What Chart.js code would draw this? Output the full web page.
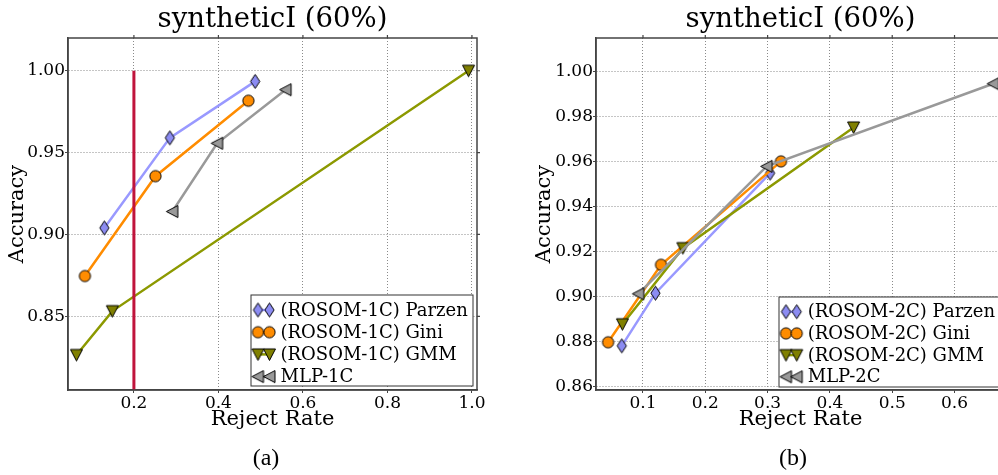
<!DOCTYPE html>
<html>
<head>
<meta charset="utf-8">
<script src="https://cdn.jsdelivr.net/npm/chart.js@4.4.0/dist/chart.umd.min.js"></script>
<style>
  html, body { margin: 0; padding: 0; width: 998px; height: 475px; overflow: hidden; background: #fff; }
  canvas { position: absolute; top: 0; }
  .caption { position: absolute; top: 444px; font-family: 'Liberation Serif', serif; font-size: 24px; color: #000; width: 60px; text-align: center; }
</style>
</head>
<body>
<canvas id="chartA" width="546" height="475" style="left:0px"></canvas>
<canvas id="chartB" width="602" height="475" style="left:500px"></canvas>
<div class="caption" style="left:236px">(a)</div>
<div class="caption" style="left:763px">(b)</div>
<script>
// ---- data: panel (a), one-class models ----
const parzen1cX = [0.130, 0.285, 0.487];
const parzen1cY = [0.904, 0.959, 0.9935];
const gini1cX = [0.084, 0.251, 0.471];
const gini1cY = [0.8746, 0.9356, 0.9817];
const gmm1cX = [0.064, 0.149, 0.992];
const gmm1cY = [0.8264, 0.8532, 1.0];
const mlp1cX = [0.291, 0.397, 0.559];
const mlp1cY = [0.914, 0.9557, 0.9884];
const rejectMarkX = [0.2, 0.2];
const rejectMarkY = [1.0, 0.79];

// ---- data: panel (b), two-class models ----
const parzen2cX = [0.066, 0.120, 0.304];
const parzen2cY = [0.8781, 0.9015, 0.9548];
const gini2cX = [0.044, 0.129, 0.3215];
const gini2cY = [0.8797, 0.9141, 0.960];
const gmm2cX = [0.067, 0.164, 0.438];
const gmm2cY = [0.8877, 0.9215, 0.9751];
const mlp2cX = [0.0925, 0.2985, 0.662];
const mlp2cY = [0.9012, 0.9578, 0.9945];

// ---- labels and ticks ----
const chartTitle = 'syntheticI (60%)';
const xLabel = 'Reject Rate';
const yLabel = 'Accuracy';
const labels1c = ['(ROSOM-1C) Parzen', '(ROSOM-1C) Gini', '(ROSOM-1C) GMM', 'MLP-1C'];
const labels2c = ['(ROSOM-2C) Parzen', '(ROSOM-2C) Gini', '(ROSOM-2C) GMM', 'MLP-2C'];
const xTicksA = [0.2, 0.4, 0.6, 0.8, 1.0];
const yTicksA = [0.85, 0.90, 0.95, 1.00];
const xTicksB = [0.1, 0.2, 0.3, 0.4, 0.5, 0.6, 0.7];
const yTicksB = [0.86, 0.88, 0.90, 0.92, 0.94, 0.96, 0.98, 1.00];

Chart.defaults.font.family = "'DejaVu Serif', serif";
Chart.defaults.color = '#000';

const zip = (xs, ys) => xs.map((x, i) => ({ x: x, y: ys[i] }));

// small canvases used as point images (matplotlib-like markers)
function makeMarker(shape, fill) {
    const c = document.createElement('canvas');
    c.width = 17; c.height = 17;
    const g = c.getContext('2d');
    const m = 8.5;
    g.beginPath();
    if (shape === 'diamond') {
        g.moveTo(m, m - 7); g.lineTo(m + 4.6, m); g.lineTo(m, m + 7); g.lineTo(m - 4.6, m);
    } else if (shape === 'circle') {
        g.arc(m, m, 5.6, 0, Math.PI * 2);
    } else if (shape === 'down') {
        g.moveTo(m - 6, m - 5.5); g.lineTo(m + 6, m - 5.5); g.lineTo(m, m + 6);
    } else if (shape === 'left') {
        g.moveTo(m - 6, m); g.lineTo(m + 5.5, m - 6); g.lineTo(m + 5.5, m + 6);
    }
    g.closePath();
    g.fillStyle = fill;
    g.fill();
    g.lineWidth = 1;
    g.strokeStyle = '#000';
    g.stroke();
    return c;
}

const styles = [
    { line: '#9999ff', marker: makeMarker('diamond', '#8c8cf2') },
    { line: '#ff8c00', marker: makeMarker('circle', '#ff8c00') },
    { line: '#8c9900', marker: makeMarker('down', '#808000') },
    { line: '#999999', marker: makeMarker('left', '#999999') }
];

function series(xs, ys, idx, label) {
    return {
        label: label,
        data: zip(xs, ys),
        showLine: true,
        borderColor: styles[idx].line,
        backgroundColor: styles[idx].line,
        borderWidth: 2.5,
        pointStyle: styles[idx].marker,
        pointRadius: 6,
        order: 10 - idx
    };
}

// title centred over the plot area, frame and outward ticks on top and right
const framePlugin = {
    id: 'frame',
    afterDraw(chart) {
        const { ctx, chartArea: a, scales } = chart;
        ctx.save();
        ctx.font = "27.5px 'DejaVu Serif'";
        ctx.fillStyle = '#000';
        ctx.textAlign = 'center';
        ctx.textBaseline = 'middle';
        ctx.fillText(chartTitle, (a.left + a.right) / 2, 20);

        ctx.strokeStyle = '#444';
        ctx.lineWidth = 1.2;
        ctx.beginPath();
        scales.x.ticks.forEach(t => {
            const px = scales.x.getPixelForValue(t.value);
            if (px < a.left || px > a.right) return;
            ctx.moveTo(px, a.top); ctx.lineTo(px, a.top - 3);
        });
        scales.y.ticks.forEach(t => {
            const py = scales.y.getPixelForValue(t.value);
            ctx.moveTo(a.right, py); ctx.lineTo(a.right + 3, py);
        });
        ctx.stroke();
        ctx.lineWidth = 1.5;
        ctx.strokeRect(a.left, a.top, a.right - a.left, a.bottom - a.top);
        ctx.restore();
    }
};

// matplotlib style legend: marker - line - marker, then text
const legendPlugin = {
    id: 'mplLegend',
    afterDraw(chart, args, opts) {
        const { ctx } = chart;
        const box = opts.box;
        ctx.save();
        ctx.fillStyle = '#fff';
        ctx.fillRect(box.x, box.y, box.w, box.h);
        ctx.strokeStyle = '#333';
        ctx.lineWidth = 1;
        ctx.strokeRect(box.x, box.y, box.w, box.h);
        ctx.font = "18px 'DejaVu Serif'";
        ctx.textBaseline = 'middle';
        ctx.fillStyle = '#000';
        opts.labels.forEach((text, i) => {
            const cy = box.y + box.first + i * box.step;
            const x1 = box.x + box.m1, x2 = x1 + box.gap;
            ctx.strokeStyle = styles[i].line;
            ctx.lineWidth = 2.5;
            ctx.beginPath(); ctx.moveTo(x1, cy); ctx.lineTo(x2, cy); ctx.stroke();
            const mk = styles[i].marker;
            ctx.drawImage(mk, x1 - mk.width / 2, cy - mk.height / 2);
            ctx.drawImage(mk, x2 - mk.width / 2, cy - mk.height / 2);
            ctx.fillText(text, x2 + box.textGap, cy + 1);
        });
        ctx.restore();
    }
};

function makeOptions(cfg) {
    return {
        responsive: false,
        animation: false,
        layout: { padding: { left: 0, right: cfg.padRight, top: 38, bottom: 35 } },
        plugins: {
            legend: { display: false },
            tooltip: { enabled: false },
            title: { display: false },
            mplLegend: { box: cfg.legendBox, labels: cfg.labels }
        },
        scales: {
            x: {
                type: 'linear',
                min: cfg.xMin, max: cfg.xMax,
                afterFit: s => { s.height = 50; },
                afterBuildTicks: s => { s.ticks = cfg.xTicks.map(v => ({ value: v })); },
                ticks: { font: { size: 17 }, padding: 0, color: '#000', callback: v => v.toFixed(1) },
                grid: { color: '#8a8a8a', lineWidth: 1, drawTicks: true, tickLength: 3, tickColor: '#444' },
                border: { display: true, color: '#444', width: 1.5, dash: [1, 2] },
                title: { display: true, text: xLabel, color: '#000', font: { size: 21, lineHeight: 1.2 }, padding: { top: 0, bottom: 7.4 } }
            },
            y: {
                type: 'linear',
                min: cfg.yMin, max: cfg.yMax,
                afterFit: s => { s.width = cfg.yWidth; },
                afterBuildTicks: s => { s.ticks = cfg.yTicks.map(v => ({ value: v })); },
                ticks: { font: { size: 17 }, padding: 0, color: '#000', callback: v => v.toFixed(2) },
                grid: { color: '#8a8a8a', lineWidth: 1, drawTicks: true, tickLength: 3, tickColor: '#444' },
                border: { display: true, color: '#444', width: 1.5, dash: [1, 2] },
                title: { display: true, text: yLabel, color: '#000', font: { size: 21, lineHeight: 1.2 }, padding: { top: cfg.yTitlePad, bottom: 0 } }
            }
        }
    };
}

new Chart(document.getElementById('chartA'), {
    type: 'scatter',
    data: {
        datasets: [
            {
                label: 'reject 0.2',
                data: zip(rejectMarkX, rejectMarkY),
                showLine: true,
                borderColor: '#c0143c',
                borderWidth: 3,
                pointRadius: 0,
                order: 0
            },
            series(parzen1cX, parzen1cY, 0, labels1c[0]),
            series(gini1cX, gini1cY, 1, labels1c[1]),
            series(gmm1cX, gmm1cY, 2, labels1c[2]),
            series(mlp1cX, mlp1cY, 3, labels1c[3])
        ]
    },
    options: makeOptions({
        padRight: 69, yWidth: 68, yTitlePad: 5.4,
        xMin: 0.044, xMax: 1.012, yMin: 0.805, yMax: 1.02,
        xTicks: xTicksA, yTicks: yTicksA, labels: labels1c,
        legendBox: { x: 251, y: 295, w: 222, h: 91, first: 15, step: 22.2, m1: 7, gap: 11.5, textGap: 11 }
    }),
    plugins: [framePlugin, legendPlugin]
});

new Chart(document.getElementById('chartB'), {
    type: 'scatter',
    data: {
        datasets: [
            series(parzen2cX, parzen2cY, 0, labels2c[0]),
            series(gini2cX, gini2cY, 1, labels2c[1]),
            series(gmm2cX, gmm2cY, 2, labels2c[2]),
            series(mlp2cX, mlp2cY, 3, labels2c[3])
        ]
    },
    options: makeOptions({
        padRight: 97, yWidth: 96, yTitlePad: 32.4,
        xMin: 0.0246, xMax: 0.681, yMin: 0.8585, yMax: 1.0148,
        xTicks: xTicksB, yTicks: yTicksB, labels: labels2c,
        legendBox: { x: 279, y: 297, w: 240, h: 90, first: 14.7, step: 21.7, m1: 7, gap: 10.7, textGap: 11 }
    }),
    plugins: [framePlugin, legendPlugin]
});
</script>
</body>
</html>
